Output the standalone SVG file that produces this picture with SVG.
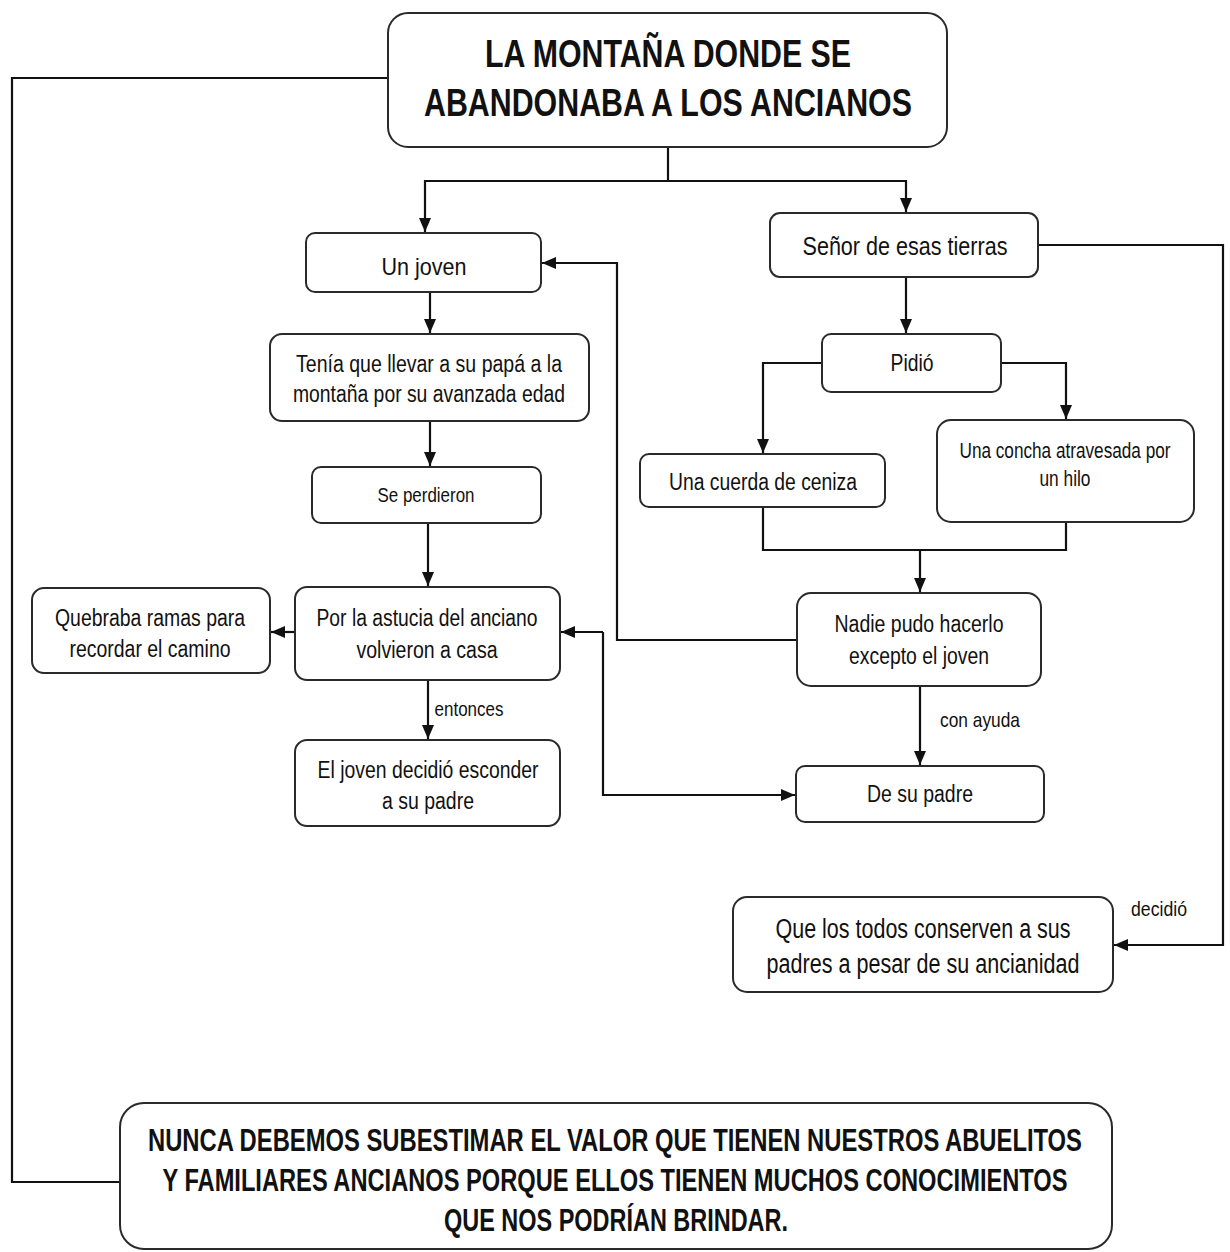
<svg xmlns="http://www.w3.org/2000/svg" width="1230" height="1252" viewBox="0 0 1230 1252">
<style>
.box{fill:#fff;stroke:#2a2a2a;stroke-width:2}
.t{font-family:"Liberation Sans",Arial,sans-serif;fill:#111;text-anchor:middle}
.b{font-weight:bold}
.c{fill:none;stroke:#111;stroke-width:2.2}
</style>
<defs>
<marker id="ah" markerUnits="userSpaceOnUse" markerWidth="15" markerHeight="12" refX="14" refY="6" orient="auto">
<path d="M0,0 L14,6 L0,12 z" fill="#111"/>
</marker>
</defs>
<rect width="1230" height="1252" fill="#fff"/>
<g id="connectors">
<path class="c" d="M388,78 H12 V1182 H120"/>
<path class="c" d="M668,147 V181"/>
<path class="c" d="M668,181 H425 V232" marker-end="url(#ah)"/>
<path class="c" d="M668,181 H906 V212" marker-end="url(#ah)"/>
<path class="c" d="M430,292 V333" marker-end="url(#ah)"/>
<path class="c" d="M430,421 V466" marker-end="url(#ah)"/>
<path class="c" d="M428,523 V586" marker-end="url(#ah)"/>
<path class="c" d="M295,632 H271" marker-end="url(#ah)"/>
<path class="c" d="M428,680 V739" marker-end="url(#ah)"/>
<path class="c" d="M1038,245 H1223 V945 H1114" marker-end="url(#ah)"/>
<path class="c" d="M906,277 V333" marker-end="url(#ah)"/>
<path class="c" d="M822,363 H763 V453" marker-end="url(#ah)"/>
<path class="c" d="M1001,363 H1066 V419" marker-end="url(#ah)"/>
<path class="c" d="M763,507 V550 H1066 V522"/>
<path class="c" d="M920,550 V592" marker-end="url(#ah)"/>
<path class="c" d="M797,640 H617 V263 H542" marker-end="url(#ah)"/>
<path class="c" d="M920,686 V765" marker-end="url(#ah)"/>
<path class="c" d="M603,632 H561" marker-end="url(#ah)"/>
<path class="c" d="M603,632 V795 H795" marker-end="url(#ah)"/>
<text class="t" x="469" y="716" font-size="21" textLength="69" lengthAdjust="spacingAndGlyphs">entonces</text>
<text class="t" x="980" y="727" font-size="21" textLength="80" lengthAdjust="spacingAndGlyphs">con ayuda</text>
<text class="t" x="1159" y="916" font-size="20" textLength="56" lengthAdjust="spacingAndGlyphs">decidió</text>
</g>
<g id="title">
<rect class="box" x="388" y="13" width="559" height="134" rx="20"/>
<text class="t b" x="668" y="67" font-size="39" textLength="366" lengthAdjust="spacingAndGlyphs">LA MONTAÑA DONDE SE</text>
<text class="t b" x="668" y="116" font-size="39" textLength="488" lengthAdjust="spacingAndGlyphs">ABANDONABA A LOS ANCIANOS</text>
</g>
<g id="un-joven">
<rect class="box" x="306" y="233" width="235" height="59" rx="9"/>
<text class="t" x="424" y="275" font-size="24" textLength="85" lengthAdjust="spacingAndGlyphs">Un joven</text>
</g>
<g id="tenia">
<rect class="box" x="270" y="334" width="319" height="87" rx="12"/>
<text class="t" x="429" y="372" font-size="23" textLength="266" lengthAdjust="spacingAndGlyphs">Tenía que llevar a su papá a la</text>
<text class="t" x="429" y="402" font-size="23" textLength="272" lengthAdjust="spacingAndGlyphs">montaña por su avanzada edad</text>
</g>
<g id="se-perdieron">
<rect class="box" x="312" y="467" width="229" height="56" rx="9"/>
<text class="t" x="426" y="502" font-size="21" textLength="97" lengthAdjust="spacingAndGlyphs">Se perdieron</text>
</g>
<g id="astucia">
<rect class="box" x="295" y="587" width="265" height="93" rx="12"/>
<text class="t" x="427" y="626" font-size="23" textLength="221" lengthAdjust="spacingAndGlyphs">Por la astucia del anciano</text>
<text class="t" x="427" y="658" font-size="23" textLength="141" lengthAdjust="spacingAndGlyphs">volvieron a casa</text>
</g>
<g id="quebraba">
<rect class="box" x="32" y="588" width="238" height="85" rx="12"/>
<text class="t" x="150" y="626" font-size="23" textLength="190" lengthAdjust="spacingAndGlyphs">Quebraba ramas para</text>
<text class="t" x="150" y="657" font-size="23" textLength="161" lengthAdjust="spacingAndGlyphs">recordar el camino</text>
</g>
<g id="esconder">
<rect class="box" x="295" y="740" width="265" height="86" rx="12"/>
<text class="t" x="428" y="778" font-size="23" textLength="221" lengthAdjust="spacingAndGlyphs">El joven decidió esconder</text>
<text class="t" x="428" y="809" font-size="23" textLength="92" lengthAdjust="spacingAndGlyphs">a su padre</text>
</g>
<g id="senor">
<rect class="box" x="770" y="213" width="268" height="64" rx="10"/>
<text class="t" x="905" y="255" font-size="26" textLength="205" lengthAdjust="spacingAndGlyphs">Señor de esas tierras</text>
</g>
<g id="pidio">
<rect class="box" x="822" y="334" width="179" height="58" rx="9"/>
<text class="t" x="912" y="371" font-size="24" textLength="43" lengthAdjust="spacingAndGlyphs">Pidió</text>
</g>
<g id="cuerda">
<rect class="box" x="640" y="454" width="245" height="53" rx="9"/>
<text class="t" x="763" y="490" font-size="23" textLength="188" lengthAdjust="spacingAndGlyphs">Una cuerda de ceniza</text>
</g>
<g id="concha">
<rect class="box" x="937" y="420" width="257" height="102" rx="14"/>
<text class="t" x="1065" y="458" font-size="22" textLength="211" lengthAdjust="spacingAndGlyphs">Una concha atravesada por</text>
<text class="t" x="1065" y="486" font-size="22" textLength="51" lengthAdjust="spacingAndGlyphs">un hilo</text>
</g>
<g id="nadie">
<rect class="box" x="797" y="593" width="244" height="93" rx="14"/>
<text class="t" x="919" y="632" font-size="23" textLength="169" lengthAdjust="spacingAndGlyphs">Nadie pudo hacerlo</text>
<text class="t" x="919" y="664" font-size="23" textLength="140" lengthAdjust="spacingAndGlyphs">excepto el joven</text>
</g>
<g id="de-su-padre">
<rect class="box" x="796" y="766" width="248" height="56" rx="9"/>
<text class="t" x="920" y="802" font-size="23" textLength="106" lengthAdjust="spacingAndGlyphs">De su padre</text>
</g>
<g id="conserven">
<rect class="box" x="733" y="897" width="380" height="95" rx="14"/>
<text class="t" x="923" y="938" font-size="27" textLength="295" lengthAdjust="spacingAndGlyphs">Que los todos conserven a sus</text>
<text class="t" x="923" y="973" font-size="27" textLength="313" lengthAdjust="spacingAndGlyphs">padres a pesar de su ancianidad</text>
</g>
<g id="conclusion">
<rect class="box" x="120" y="1103" width="992" height="146" rx="24"/>
<g transform="scale(0.8,1)">
<text class="t b" x="768.75" y="1151" font-size="31" textLength="1167.5" lengthAdjust="spacingAndGlyphs">NUNCA DEBEMOS SUBESTIMAR EL VALOR QUE TIENEN NUESTROS ABUELITOS</text>
<text class="t b" x="768.75" y="1191" font-size="31" textLength="1131.25" lengthAdjust="spacingAndGlyphs">Y FAMILIARES ANCIANOS PORQUE ELLOS TIENEN MUCHOS CONOCIMIENTOS</text>
<text class="t b" x="770" y="1231" font-size="31" textLength="430" lengthAdjust="spacingAndGlyphs">QUE NOS PODRÍAN BRINDAR.</text>
</g>
</g>
</svg>
